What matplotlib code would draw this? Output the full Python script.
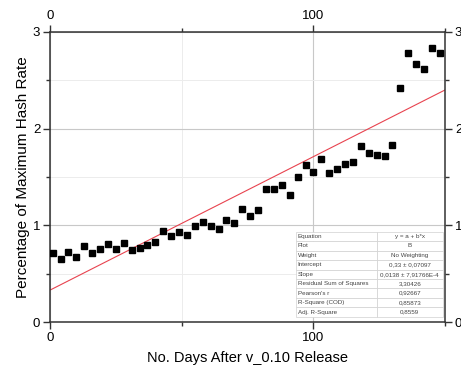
import matplotlib
matplotlib.use('Agg')
import matplotlib.pyplot as plt
from matplotlib.ticker import MultipleLocator

plt.rcParams['font.family'] = ['Liberation Sans', 'DejaVu Sans']

days = [1, 4, 7, 10, 13, 16, 19, 22, 25, 28, 31, 34, 37, 40, 43, 46, 49, 52, 55, 58,
        61, 64, 67, 70, 73, 76, 79, 82, 85, 88, 91, 94, 97, 100, 103, 106, 109, 112,
        115, 118, 121, 124, 127, 130, 133, 136, 139, 142, 145, 148]
rate = [0.71, 0.655, 0.72, 0.67, 0.79, 0.71, 0.76, 0.81, 0.76, 0.82,
        0.74, 0.77, 0.80, 0.83, 0.94, 0.89, 0.93, 0.90, 0.99, 1.03,
        0.99, 0.96, 1.05, 1.02, 1.165, 1.10, 1.16, 1.38, 1.38, 1.42,
        1.31, 1.50, 1.62, 1.55, 1.69, 1.54, 1.585, 1.63, 1.655, 1.82,
        1.745, 1.73, 1.72, 1.83, 2.42, 2.78, 2.665, 2.62, 2.83, 2.785]

intercept = 0.33
slope = 0.0138
fit_x = [0, 150]

table_rows = [
    ['Equation', 'y = a + b*x'],
    ['Plot', 'B'],
    ['Weight', 'No Weighting'],
    ['Intercept', '0,33 ± 0,07097'],
    ['Slope', '0,0138 ± 7,91766E-4'],
    ['Residual Sum of Squares', '3,30426'],
    ["Pearson's r", '0,92667'],
    ['R-Square (COD)', '0,85873'],
    ['Adj. R-Square', '0,8559'],
]

fig = plt.figure(figsize=(4.61, 3.71), dpi=100)
ax = fig.add_axes([0.1085, 0.132, 0.857, 0.782])

ax.plot(fit_x, [intercept + slope * x for x in fit_x], color='#e8434f', lw=0.8, zorder=2)
ax.plot(days, rate, 's', color='black', ms=4.8, zorder=3)

ax.set_xlim(0, 150)
ax.set_ylim(0, 3)
ax.xaxis.set_major_locator(MultipleLocator(100))
ax.xaxis.set_minor_locator(MultipleLocator(50))
ax.yaxis.set_major_locator(MultipleLocator(1))
ax.yaxis.set_minor_locator(MultipleLocator(0.5))
ax.grid(which='major', color='#c8c8c8', lw=0.8)
ax.grid(which='minor', color='#ececec', lw=0.7)
ax.set_axisbelow(True)

ax.tick_params(which='both', direction='out', top=True, right=True,
               labeltop=True, labelright=True, labelsize=9.5, color='#333333', width=1)
ax.tick_params(which='major', length=5, pad=2)
ax.tick_params(which='minor', length=3)
for s in ax.spines.values():
    s.set_color('#333333')
    s.set_linewidth(1.1)

ax.set_xlabel('No. Days After v_0.10 Release', fontsize=10.5, labelpad=5)
ax.set_ylabel('Percentage of Maximum Hash Rate', fontsize=11)
ax.yaxis.set_label_coords(-0.05, 0.5)

tbl = ax.table(cellText=table_rows, bbox=[0.623, 0.018, 0.371, 0.293],
               colWidths=[0.55, 0.45], zorder=4)
tbl.auto_set_font_size(False)
tbl.set_fontsize(4.5)
for (r, c), cell in tbl.get_celld().items():
    cell.set_edgecolor('#d0d0d0')
    cell.set_linewidth(0.5)
    cell.set_facecolor('white')
    cell.get_text().set_color('#444444')
    if c == 0:
        cell.get_text().set_ha('left')
        cell.PAD = 0.02
    else:
        cell.get_text().set_ha('center')

fig.savefig('out.png', dpi=100)
